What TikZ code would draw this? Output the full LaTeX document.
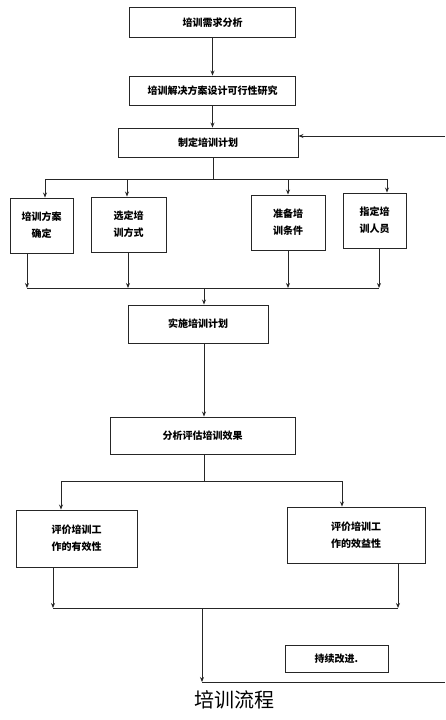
\documentclass[tikz,border=0pt]{standalone}
\usepackage{fontspec}
\newfontfamily\cjk{Noto Sans CJK SC}
\usetikzlibrary{arrows.meta}
\tikzset{
  box/.style={draw=black!85,rectangle,inner sep=0pt,align=center,
    font=\cjk\bfseries\fontsize{10}{17}\selectfont},
  wide/.style={box,minimum width=166pt,minimum height=30pt},
  small/.style={box,minimum width=#1,minimum height=55pt},
  >={Stealth[length=5pt,width=4pt]}
}
\begin{document}
\begin{tikzpicture}[x=1pt,y=-1pt,line width=0.9pt,draw=black!85]
      \useasboundingbox (0,0) rectangle (445,720);
      \draw
        (212.5,22.5) node[wide] (0){培训需求分析}
        (212.5,90.5) node[wide,minimum height=29pt] (1){培训解决方案设计可行性研究}
        (208,142.5) node[wide,minimum width=180pt,minimum height=29pt] (2){制定培训计划}
        (41.5,225.5) node[small=63pt] (3){培训方案\\确定}
        (128.5,224.5) node[small=75pt] (4){选定培\\训方式}
        (288,222.5) node[small=74pt] (5){准备培\\训条件}
        (374.5,220.5) node[small=63pt] (6){指定培\\训人员}
        (198,324) node[box,minimum width=140pt,minimum height=38pt] (7){实施培训计划}
        (202.5,435.5) node[box,minimum width=185pt,minimum height=37pt] (8){分析评估培训效果}
        (76.5,538.5) node[box,minimum width=121pt,minimum height=57pt] (9){评价培训工\\作的有效性}
        (356,535) node[box,minimum width=138pt,minimum height=56pt] (10){评价培训工\\作的效益性}
        (336.5,658.5) node[box,minimum width=103pt,minimum height=27pt] (11){持续改进.}
        (234,700) node[font=\cjk\fontsize{20}{24}\selectfont] (12){培训流程};
      \coordinate (s1) at (213,179);
      \coordinate (t1) at (45,179);
      \coordinate (t2) at (127,179);
      \coordinate (t3) at (288,179);
      \coordinate (t4) at (387,179);
      \coordinate (s2) at (204,288);
      \coordinate (b1) at (27,288);
      \coordinate (b2) at (128,288);
      \coordinate (b3) at (288,288);
      \coordinate (b4) at (379,288);
      \coordinate (s3) at (204,481);
      \coordinate (c1) at (61,481);
      \coordinate (c2) at (342,481);
      \coordinate (s4) at (202,608);
      \coordinate (d1) at (53,608);
      \coordinate (d2) at (398,608);
      \coordinate (s5) at (202,682);
      \coordinate (r0) at (445,682);
      \coordinate (r1) at (445,136);
      \begin{scope}[->]
        \draw (0) to (1);
        \draw (1.south) to (1.south |- 2.north);
        \draw[-] (2.south -| s1) to (s1);
        \draw[-] (t1) to (t4);
        \foreach \a/\b in {t1/3,t2/4,t3/5,t4/6}
          \draw (\a) to (\a |- \b.north);
        \foreach \a/\b in {b1/3,b2/4,b3/5,b4/6}
          \draw (\b.south -| \a) to (\a);
        \draw[-] (b1) to (b4);
        \draw (s2) to (7.north -| s2);
        \draw (7.south -| s2) to (8.north -| s2);
        \draw[-] (8.south -| s3) to (s3);
        \draw[-] (c1) to (c2);
        \draw (c1) to (c1 |- 9.north);
        \draw (c2) to (c2 |- 10.north);
        \draw (9.south -| d1) to (d1);
        \draw (10.south -| d2) to (d2);
        \draw[-] (d1) to (d2);
        \draw (s4) to (s5);
        \draw[-] (s5) to (r0);
        \draw (r1) to (r1 -| 2.east);
      \end{scope}
    \end{tikzpicture}
\end{document}
